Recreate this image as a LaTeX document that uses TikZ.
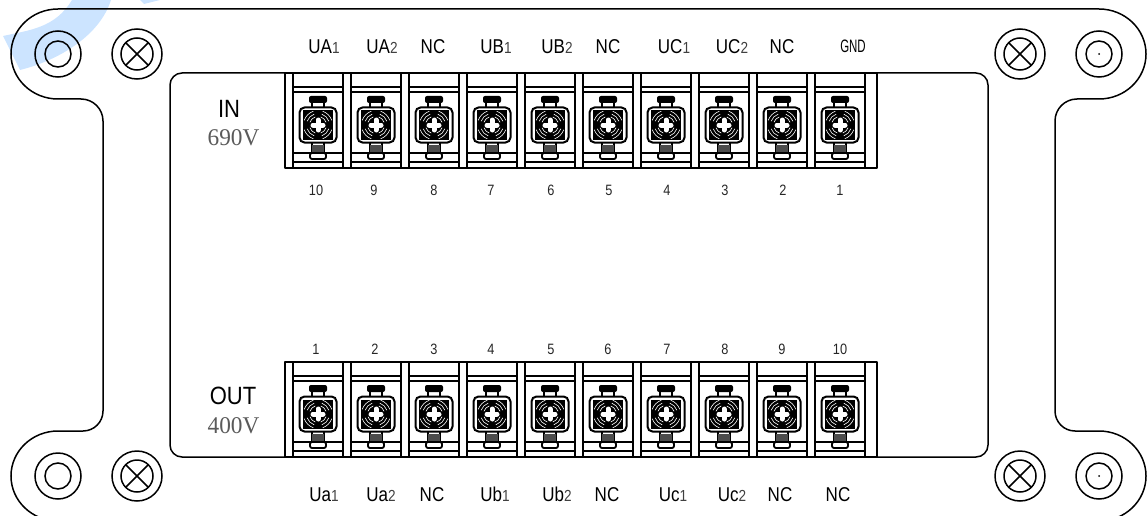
\documentclass[tikz,border=0pt]{standalone}
\usepackage{fontspec}
\setmainfont{Liberation Sans}
\newfontfamily\serifV{Liberation Serif}
\definecolor{markblue}{RGB}{204, 228, 255}
\definecolor{voltgray}{RGB}{90, 90, 90}
\usetikzlibrary{positioning}
\newcommand{\sub}[1]{{\fontsize{16}{16}\selectfont\color{black!75}#1}}
\tikzset{
  plate/.style={line width=1.5pt, black},
  signal/.style={font=\fontsize{20}{20}\selectfont, xscale=0.85, anchor=base},
  pinnum/.style={font=\fontsize{15}{15}\selectfont, xscale=0.85, text=black!85},
  hole/.pic={
    \draw[plate] (0,0) circle (23);
    \draw[plate] (0,0) circle (13);
  },
  screwhead/.pic={
    \draw[plate] (0,0) circle (25);
    \draw[plate] (0,0) circle (16);
    \draw[plate] (-11.3,-11.3) -- (11.3,11.3);
    \draw[plate] (-11.3,11.3) -- (11.3,-11.3);
  },
  terminal/.pic={
    % Cell rails
    \draw[line width=1.5pt] (-25,14) -- (25,14);
    \draw[line width=1.5pt] (-25,19) -- (25,19);
    \draw[line width=1.5pt] (-25,80) -- (25,80);
    \draw[line width=1.5pt] (-25,89) -- (25,89);
    \draw[line width=2.6pt] (-25,0) -- (-25,95);
    \draw[line width=2.6pt] (25,0) -- (25,95);
    % Top tab
    \fill[black, rounded corners=2] (-9,23) rectangle (9,30);
    \draw[line width=1.8pt] (-6,30) -- (-6,35);
    \draw[line width=1.8pt] (6,30) -- (6,35);
    % Bottom tab
    \draw[line width=1.8pt] (-6,70) -- (-6,80);
    \draw[line width=1.8pt] (6,70) -- (6,80);
    \fill[black!70] (-6,72) rectangle (6,79);
    \draw[line width=1.8pt, rounded corners=2, fill=white] (-8,80) rectangle (8,86);
    % Screw body
    \draw[line width=2pt, rounded corners=5, fill=white] (-18.5,34.5) rectangle (18.5,69.5);
    \fill[black] (-15,37.5) rectangle (15,66.5);
    \foreach \a in {45,135,225,315} {
      \foreach \r in {8.5,11.5,14.5} {
        \draw[white, line width=0.6pt] ({\r*cos(\a-26)},{52+\r*sin(\a-26)})
          arc[start angle=\a-26, end angle=\a+26, radius=\r];
      }
    }
    % Cross slot
    \draw[white, line width=5pt, line cap=round] (-5,52) -- (5,52);
    \draw[white, line width=5pt, line cap=round] (0,47) -- (0,57);
  }
}

\begin{document}
\begin{tikzpicture}[x=1pt, y=-1pt]
  \useasboundingbox (0,0) rectangle (1147,516);
  \clip (0,0) rectangle (1147,516);

  % Watermark
  \fill[markblue] (72,0) .. controls (55,28) and (30,30) .. (3,36)
    -- (20,70) .. controls (60,60) and (100,35) .. (111,0) -- cycle;
  \fill[markblue] (140,0) -- (144,4) -- (160,0) -- cycle;

  % Outline
  \draw[plate] (58,9) -- (1099,9)
    arc[start angle=270, end angle=450, x radius=47, y radius=45]
    -- (1077,99) arc[start angle=270, end angle=180, radius=22]
    -- (1055,411) arc[start angle=180, end angle=90, radius=20]
    -- (1099,431) arc[start angle=270, end angle=450, x radius=47, y radius=45]
    -- (58,521) arc[start angle=90, end angle=270, x radius=47, y radius=45]
    -- (83,431) arc[start angle=90, end angle=0, radius=20]
    -- (103,121) arc[start angle=0, end angle=-90, radius=22]
    -- (58,99) arc[start angle=90, end angle=270, x radius=47, y radius=45]
    -- cycle;

  % Inner window
  \draw[plate, rounded corners=12] (170,73) rectangle (988,457);

  % Mounting holes and screws
  \pic at (58,54) {hole};
  \pic at (58,476) {hole};
  \pic at (1099,54) {hole};
  \pic at (1099,476) {hole};
  \fill (1099,54) circle (1);
  \fill (1099,476) circle (1);
  \pic at (137,54) {screwhead};
  \pic at (137,476) {screwhead};
  \pic at (1020,54) {screwhead};
  \pic at (1020,476) {screwhead};

  % Terminal strips
  \foreach \y in {73,362} {
    \draw[line width=2.2pt, fill=white, line join=round] (285,\y) rectangle (877,\y+95);
    \foreach \i in {0,...,9} {
      \pic at ({318+58*\i},\y) {terminal};
    }
  }

  % Strip headings
  \node[font=\fontsize{25}{25}\selectfont, xscale=0.88] (inlabel) at (229,109) {IN};
  \node[font=\fontsize{24}{24}\serifV, xscale=0.97, text=voltgray] (inlimit) at (233.5,138) {690V};
  \node[font=\fontsize{25}{25}\selectfont, xscale=0.88] (outlabel) at (233,396) {OUT};
  \node[font=\fontsize{24}{24}\serifV, xscale=0.97, text=voltgray] (outlimit) at (233.5,426) {400V};

  % Input signals
  \node[signal] (ua1) at (324,54) {UA\sub{1}};
  \node[signal] (ua2) at (382,54) {UA\sub{2}};
  \node[signal] (nca) at (433,54) {NC};
  \node[signal] (ub1) at (496,54) {UB\sub{1}};
  \node[signal] (ub2) at (557,54) {UB\sub{2}};
  \node[signal] (ncb) at (608,54) {NC};
  \node[signal] (uc1) at (674,54) {UC\sub{1}};
  \node[signal] (uc2) at (732,54) {UC\sub{2}};
  \node[signal] (ncc) at (782,54) {NC};
  \node[signal, font=\fontsize{18}{18}\selectfont, xscale=0.75] (gnd) at (853,53) {GND};

  % Output signals
  \node[signal] (oa1) at (324,501) {Ua\sub{1}};
  \node[signal] (oa2) at (381,501) {Ua\sub{2}};
  \node[signal] (ona) at (432,501) {NC};
  \node[signal] (ob1) at (495,501) {Ub\sub{1}};
  \node[signal] (ob2) at (557,501) {Ub\sub{2}};
  \node[signal] (onb) at (607,501) {NC};
  \node[signal] (oc1) at (673,501) {Uc\sub{1}};
  \node[signal] (oc2) at (732,501) {Uc\sub{2}};
  \node[signal] (onc) at (780,501) {NC};
  \node[signal] (ond) at (838,501) {NC};

  % Pin numbers
  \foreach \n/\x in {10/316, 9/374, 8/434, 7/491, 6/551, 5/609, 4/667, 3/725, 2/783, 1/840} {
    \node[pinnum] (top\n) at (\x,190) {\n};
  }
  \foreach \n/\x in {1/316, 2/375, 3/434, 4/491, 5/551, 6/608, 7/667, 8/725, 9/782, 10/840} {
    \node[pinnum] (bot\n) at (\x,349) {\n};
  }
\end{tikzpicture}
\end{document}
